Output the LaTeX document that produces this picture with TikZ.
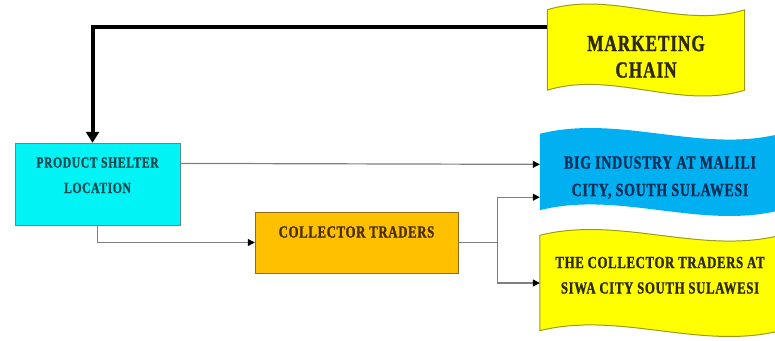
\documentclass[tikz,border=0pt]{standalone}
\usepackage{fontspec}
\newfontfamily\flagfont[FakeStretch=0.75,LetterSpace=4,FakeBold=1.2]{Liberation Serif}
\usetikzlibrary{arrows.meta,calc,backgrounds}

\definecolor{shelterfill}{HTML}{00F4F6}
\definecolor{shelterline}{HTML}{4F8F95}
\definecolor{sheltertext}{HTML}{124A52}
\definecolor{traderfill}{HTML}{FFC000}
\definecolor{traderline}{HTML}{8C6A1E}
\definecolor{tradertext}{HTML}{4A2E00}
\definecolor{yellowfill}{HTML}{FFFF00}
\definecolor{yellowline}{HTML}{9C9A1C}
\definecolor{yellowtext}{HTML}{2E2A05}
\definecolor{bluefill}{HTML}{00B0F0}
\definecolor{bluetext}{HTML}{0C2F5A}
\definecolor{linkgray}{HTML}{7F7F7F}

\newcommand\waveflag[3]{%
  \filldraw[#3] (#1.north west)
    .. controls ($(#1.north west)!0.33!(#1.north east)+(0,-#2)$) and ($(#1.north west)!0.67!(#1.north east)+(0,#2)$) .. (#1.north east)
    -- (#1.south east)
    .. controls ($(#1.south west)!0.67!(#1.south east)+(0,#2)$) and ($(#1.south west)!0.33!(#1.south east)+(0,-#2)$) .. (#1.south west)
    -- cycle;}
\newcommand\lifted[2]{\raisebox{#1}[0pt][0pt]{\shortstack{#2}}}

\begin{document}
\begin{tikzpicture}[x=1pt,y=-1pt,
    link/.style={draw=linkgray,line width=1.2pt},
    tip/.style={-{Triangle[width=7pt,length=7pt,color=black]}},
    feedback/.style={line width=4pt,-{Triangle[width=13pt,length=11pt]}}]
  \useasboundingbox (0,0) rectangle (775,340);

  \begin{scope}[align=center,inner sep=0pt,font=\flagfont\bfseries\fontsize{17}{25}\selectfont]
    \node[fill=shelterfill,draw=shelterline,minimum width=165pt,minimum height=82pt,text=sheltertext,font=\flagfont\bfseries\fontsize{15.5}{25}\selectfont] (shelter) at (97.5,184) {\lifted{-9pt}{PRODUCT SHELTER\\[12pt]LOCATION}};
    \node[fill=traderfill,draw=traderline,minimum width=203pt,minimum height=61pt,text=tradertext] (collector) at (356.5,242.5) {\lifted{5pt}{COLLECTOR TRADERS}};
    \node[minimum width=197pt,minimum height=80pt,text=yellowtext,font=\flagfont\bfseries\fontsize{23}{25}\selectfont] (chain) at (646,50) {\lifted{-27.5pt}{MARKETING\\[8pt]CHAIN}};
    \node[minimum width=240pt,minimum height=76pt,text=bluetext,font=\flagfont\bfseries\fontsize{18.5}{28}\selectfont] (big) at (660,172) {\lifted{-24pt}{BIG INDUSTRY AT MALILI\\[12pt]CITY, SOUTH SULAWESI}};
    \node[minimum width=240pt,minimum height=95pt,text=yellowtext] (siwa) at (660,283) {\lifted{-10.5pt}{THE COLLECTOR TRADERS AT\\[11pt]SIWA CITY SOUTH SULAWESI}};
  \end{scope}

  \begin{scope}[on background layer]
    \waveflag{chain}{20}{fill=yellowfill,draw=yellowline,line width=1pt}
    \waveflag{big}{20}{fill=bluefill,draw=none}
    \waveflag{siwa}{20}{fill=yellowfill,draw=yellowline,line width=1pt}
  \end{scope}

  \coordinate (split) at ($(collector.east)+(39,0)$);

  \draw[feedback] ($(chain.north west)!0.22!(chain.south west)$) -| ($(shelter.north west)!0.47!(shelter.north east)$);
  \draw[link,tip] ($(shelter.north east)!0.25!(shelter.south east)$) -- ($(big.north west)!0.4!(big.south west)$);
  \draw[link,tip] (shelter.south) |- (collector.west);
  \draw[link] (collector.east) -- (split);
  \draw[link,tip] (split) |- ($(big.north west)!0.83!(big.south west)$);
  \draw[link,tip] (split) |- (siwa.west);
\end{tikzpicture}
\end{document}
